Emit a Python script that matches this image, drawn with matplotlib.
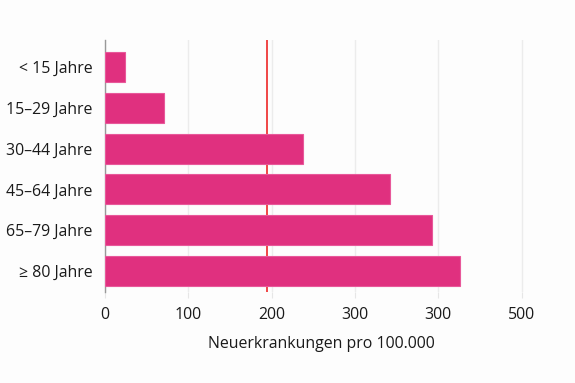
import matplotlib
matplotlib.use('Agg')
import matplotlib.pyplot as plt

# data
age_groups = ['< 15 Jahre', '15–29 Jahre', '30–44 Jahre', '45–64 Jahre', '65–79 Jahre', '≥ 80 Jahre']
rates = [24, 70, 238, 342, 392, 426]
reference_line = 194
x_ticks = [0, 100, 200, 300, 400, 500]
x_tick_labels = ['0', '100', '200', '300', '300', '500']  # as printed in the original

plt.rcParams['font.family'] = ['Open Sans', 'DejaVu Sans']

fig = plt.figure(figsize=(5.75, 3.83), dpi=100, facecolor='#fdfdfd')
ax = fig.add_axes([0.183, 0.2376, 0.753, 0.658])
ax.set_facecolor('#fdfdfd')

pos = list(range(len(age_groups)))
ax.barh(pos, rates, height=0.74, color='#e0307f', edgecolor='#e8589a', linewidth=0.8, zorder=3)
# reference line sits behind the bars
ax.axvline(reference_line, color='#f04545', linewidth=1.4, zorder=2)

ax.set_ylim(5.52, -0.67)
ax.set_xlim(0, 520)
ax.set_yticks(pos)
ax.set_yticklabels(age_groups, fontsize=11.4, color='#1a1a1a')
ax.set_xticks(x_ticks)
ax.set_xticklabels(x_tick_labels, fontsize=11.4, color='#1a1a1a')
ax.set_xlabel('Neuerkrankungen pro 100.000', fontsize=11.4, color='#1a1a1a', labelpad=9)

ax.grid(axis='x', color='#ececec', linewidth=1, zorder=0)
for s in ['top', 'right', 'bottom']:
    ax.spines[s].set_visible(False)
ax.spines['left'].set_color('#999999')
ax.spines['left'].set_linewidth(1)
ax.tick_params(axis='y', length=0, pad=9)
ax.tick_params(axis='x', length=4, color='#e6e6e6', pad=7)

fig.savefig('out.png', dpi=100, facecolor=fig.get_facecolor())
